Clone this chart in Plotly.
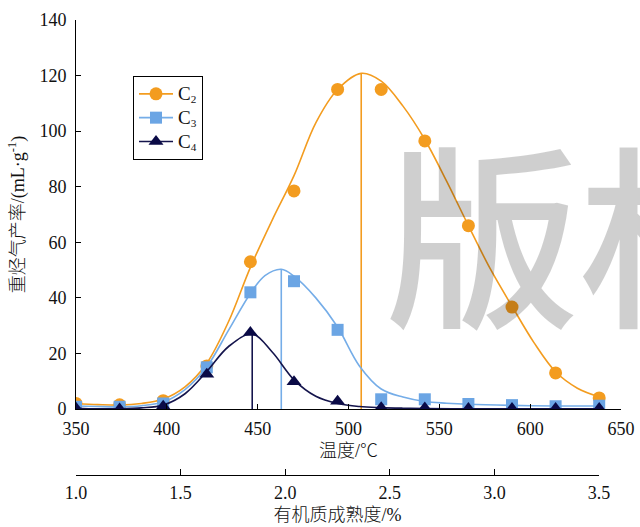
import plotly.graph_objects as go

# Measured yields of heavy hydrocarbon gases at each pyrolysis temperature
temps = [350, 374, 398, 422, 446, 470, 494, 518, 542, 566, 590, 614, 638]
c2 = [2.0, 1.5, 3.0, 15.5, 53.0, 78.5, 115.0, 115.0, 96.5, 66.0, 36.7, 13.0, 4.0]
c3 = [0.8, 0.8, 2.0, 15.0, 42.0, 46.0, 28.5, 3.5, 3.5, 1.8, 1.4, 1.0, 1.2]
c4 = [0.3, 0.0, 1.0, 12.5, 27.5, 9.8, 2.8, 0.5, 0.4, 0.2, 0.2, 0.2, 0.2]

# Fitted yield curves (temperature, yield)
c2_fit_t = [350, 362, 374, 386, 398, 410, 422, 434, 446, 458, 470, 482, 494, 507,
            518, 530, 542, 554, 566, 578, 590, 602, 614, 626, 638]
c2_fit_v = [2.0, 1.6, 1.4, 2.0, 3.6, 8.0, 16.5, 31.5, 51.0, 68.0, 84.0, 103.0, 115.0, 120.8,
            118.0, 109.0, 97.0, 82.0, 66.0, 50.5, 37.0, 24.0, 13.4, 7.5, 4.4]
c3_fit_t = [350, 362, 374, 386, 398, 410, 422, 434, 446, 454, 463, 470, 482, 494,
            506, 518, 530, 542, 554, 566, 590, 614, 638]
c3_fit_v = [1.1, 0.9, 0.8, 1.2, 2.5, 7.0, 15.2, 28.4, 41.6, 48.0, 50.3, 47.8, 40.0, 29.5,
            15.5, 7.2, 4.3, 2.7, 2.1, 1.7, 1.3, 1.1, 1.1]
c4_fit_t = [350, 362, 374, 386, 398, 410, 422, 434, 447, 458, 470, 482, 494, 506,
            518, 530, 542, 566, 590, 614, 638]
c4_fit_v = [0.3, 0.1, 0.1, 0.4, 1.4, 5.5, 13.5, 22.5, 27.0, 20.5, 10.5, 4.6, 2.0, 0.9,
            0.5, 0.3, 0.2, 0.1, 0.1, 0.1, 0.1]

# Peak temperature / peak yield of each fitted curve
peak_t = [507, 463, 447]
peak_v = [120.8, 50.3, 27.0]

# Axis ticks
x_ticks = [350, 400, 450, 500, 550, 600, 650]
y_ticks = [0, 20, 40, 60, 80, 100, 120, 140]
ro_ticks = [1.0, 1.5, 2.0, 2.5, 3.0, 3.5]

names = ['<span style="font-size:19px">C</span><sub>2</sub>',
         '<span style="font-size:19px">C</span><sub>3</sub>',
         '<span style="font-size:19px">C</span><sub>4</sub>']
colors = ["#F39C1F", "#6BA5E4", "#0A0A46"]
line_colors = ["#F39C1F", "#75ADE8", "#14144C"]
symbols = ["circle", "square", "triangle-up"]
sizes = [13, 12, 13]
values = [c2, c3, c4]
fits = [(c2_fit_t, c2_fit_v), (c3_fit_t, c3_fit_v), (c4_fit_t, c4_fit_v)]

SERIF = "Liberation Serif, Times New Roman, Noto Sans CJK SC, serif"

fig = go.Figure()
for i in range(3):
    ft, fv = fits[i]
    fig.add_trace(go.Scatter(x=ft, y=fv, mode="lines", showlegend=False,
                             line=dict(color=line_colors[i], width=1.6, shape="spline", smoothing=1.0),
                             hoverinfo="skip"))
    fig.add_trace(go.Scatter(x=[peak_t[i], peak_t[i]], y=[0, peak_v[i]], mode="lines",
                             showlegend=False, line=dict(color=line_colors[i], width=1.6),
                             hoverinfo="skip"))
    fig.add_trace(go.Scatter(x=temps, y=values[i], mode="markers", showlegend=False,
                             marker=dict(symbol=symbols[i], size=sizes[i], color=colors[i],
                                         line=dict(width=0))))
for i in range(3):
    fig.add_trace(go.Scatter(x=[None], y=[None], mode="lines+markers", name=names[i],
                             line=dict(color=line_colors[i], width=1.6),
                             marker=dict(symbol=symbols[i], size=sizes[i], color=colors[i],
                                         line=dict(width=0))))

# Secondary axis for organic-matter maturity (Ro, %)
fig.add_trace(go.Scatter(x=ro_ticks, y=[None] * len(ro_ticks), xaxis="x2", yaxis="y",
                         mode="markers", showlegend=False, hoverinfo="skip"))

axis_font = dict(family=SERIF, size=18, color="#111111")
title_font = dict(family=SERIF, size=18, color="#111111", weight=300)

fig.update_layout(
    width=640, height=527,
    margin=dict(l=76, r=19, t=20, b=52, autoexpand=False),
    paper_bgcolor="white", plot_bgcolor="rgba(0,0,0,0)",
    font=axis_font,
    xaxis=dict(domain=[0, 1], range=[350, 650], tickvals=x_ticks, ticks="inside", ticklen=5,
               tickcolor="black", showline=True, linecolor="black", linewidth=1,
               showgrid=False, zeroline=False, anchor="y", ticklabelstandoff=3,
               automargin=False,
               title=dict(text="温度/℃", standoff=6, font=title_font)),
    yaxis=dict(domain=[0.145, 1], range=[0, 140], tickvals=y_ticks, ticks="inside", ticklen=5,
               tickcolor="black", showline=True, linecolor="black", linewidth=1,
               showgrid=False, zeroline=False, ticklabelstandoff=5, automargin=False,
               title=dict(text="重烃气产率/(mL·g<sup>-1</sup>)", standoff=10, font=title_font)),
    xaxis2=dict(domain=[0, 0.9596], range=[1.0, 3.5], tickvals=ro_ticks, tickformat=".1f",
                ticks="inside", ticklen=6, tickcolor="black", showline=True, linecolor="black",
                linewidth=1, showgrid=False, zeroline=False, anchor="free", position=0,
                side="bottom", ticklabelstandoff=1, automargin=False,
                title=dict(text="有机质成熟度/%", standoff=6, font=title_font)),
    legend=dict(x=0.1046, y=0.877, xanchor="left", yanchor="top",
                bordercolor="black", borderwidth=1, bgcolor="white",
                font=dict(family=SERIF, size=16, color="#111111"),
                tracegroupgap=0, itemwidth=34),
    showlegend=True,
)

# Copyright watermark
fig.add_annotation(text="版权", xref="paper", yref="paper", x=0.5627, y=0.543,
                   xanchor="left", yanchor="middle", showarrow=False,
                   font=dict(family="Noto Sans CJK SC", size=195, weight=500,
                             color="rgba(0,0,0,0.19)"))

fig.write_html("out.html")
